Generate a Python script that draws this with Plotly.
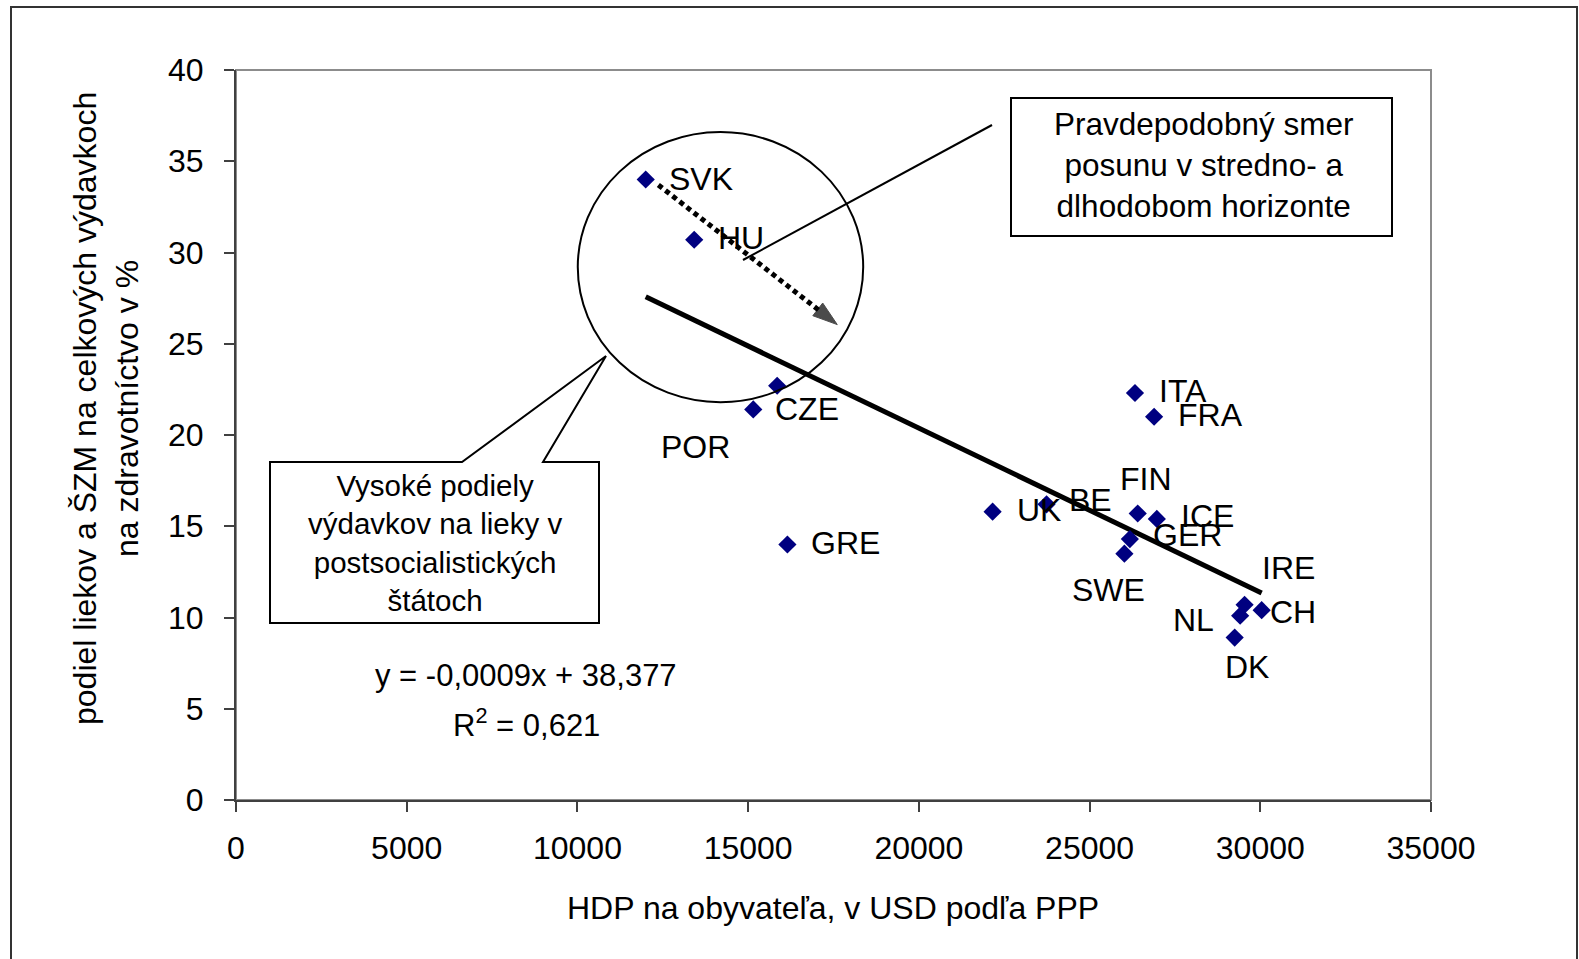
import plotly.graph_objects as go

# ---------------- data ----------------
countries = ["SVK", "HU", "CZE", "POR", "GRE", "UK", "BE", "FIN", "ICE", "GER",
             "SWE", "ITA", "FRA", "IRE", "NL", "CH", "DK"]
gdp_per_capita = [12000, 13420, 15850, 15150, 16150, 22160, 23740, 26410, 26970,
                  26180, 26020, 26330, 26890, 29540, 29410, 30040, 29250]
drug_share = [34.0, 30.7, 22.7, 21.4, 14.0, 15.8, 16.2, 15.7, 15.4,
              14.3, 13.5, 22.3, 21.0, 10.7, 10.1, 10.4, 8.9]

trend_slope = -0.0009
trend_intercept = 38.377
trend_r2 = 0.621

x_ticks = [0, 5000, 10000, 15000, 20000, 25000, 30000, 35000]
y_ticks = [0, 5, 10, 15, 20, 25, 30, 35, 40]

x_title = "HDP na obyvateľa, v USD podľa PPP"
y_title = "podiel liekov a ŠZM na celkových výdavkoch<br>na zdravotníctvo v %"
box_left_text = "Vysoké podiely<br>výdavkov na lieky v<br>postsocialistických<br>štátoch"
box_right_text = "Pravdepodobný smer<br>posunu v stredno- a<br>dlhodobom horizonte"

# ---------------- styling / placement ----------------
FONT = "Liberation Sans, Arial, sans-serif"
W, H = 1579, 959
PL, PR, PT, PB = 236, 1431, 70, 800

def px(x):
    return (x - PL) / (PR - PL)

def py(y):
    return (PB - y) / (PB - PT)

# label offsets in pixels (dx right, dy down)
label_offsets = {
    "SVK": (55, -1), "HU": (47, -2), "CZE": (30, 23), "POR": (-58, 38),
    "GRE": (58, -2), "UK": (46, -2), "BE": (44, -4), "FIN": (8, -34),
    "ICE": (51, -3), "GER": (58, -4), "SWE": (-16, 36), "ITA": (48, -2),
    "FRA": (56, -2), "IRE": (44, -37), "NL": (-47, 4), "CH": (31, 2),
    "DK": (12, 29),
}

# direction arrow (data coords) and circle (data coords)
arrow_from = (12370, 33.7)
arrow_to = (17610, 26.05)
circle_box = (10010, 21.8, 18370, 36.6)

fig = go.Figure()

# trend line from the fitted equation across the data range
xmin, xmax = min(gdp_per_capita), max(gdp_per_capita)
fig.add_trace(go.Scatter(
    x=[xmin, xmax],
    y=[trend_slope * xmin + trend_intercept, trend_slope * xmax + trend_intercept],
    mode="lines", line=dict(color="black", width=5), hoverinfo="skip",
    showlegend=False,
))

# dotted arrow
fig.add_trace(go.Scatter(
    x=[arrow_from[0], arrow_to[0]], y=[arrow_from[1], arrow_to[1]],
    mode="lines+markers",
    line=dict(color="black", width=5, dash="5px,4px"),
    marker=dict(symbol=["circle", "arrow"], size=[0, 26], color="black",
                line=dict(color="black", width=1), angleref="previous"),
    hoverinfo="skip", showlegend=False,
))

# data points
fig.add_trace(go.Scatter(
    x=gdp_per_capita, y=drug_share, mode="markers",
    marker=dict(symbol="diamond", size=14, color="#000080"),
    text=countries, showlegend=False,
))

annotations = []
for c, xv, yv in zip(countries, gdp_per_capita, drug_share):
    dx, dy = label_offsets[c]
    annotations.append(dict(
        x=xv, y=yv, xref="x", yref="y", text=c, showarrow=False,
        xshift=dx, yshift=-dy, xanchor="center", yanchor="middle",
        font=dict(family=FONT, size=32, color="black"),
    ))

eq_text = "y = {:.4f}x + {:.3f}".format(trend_slope, trend_intercept).replace(".", ",")
r2_text = "R<sup>2</sup> = {:.3f}".format(trend_r2).replace(".", ",")
annotations += [
    dict(x=px(526), y=py(675), xref="paper", yref="paper", text=eq_text,
         showarrow=False, xanchor="center", yanchor="middle",
         font=dict(family=FONT, size=31, color="black")),
    dict(x=px(526), y=py(723), xref="paper", yref="paper", text=r2_text,
         showarrow=False, xanchor="center", yanchor="middle",
         font=dict(family=FONT, size=31, color="black")),
    dict(x=px(434.5), y=py(543), xref="paper", yref="paper", text=box_left_text,
         showarrow=False, xanchor="center", yanchor="middle",
         font=dict(family=FONT, size=29.5, color="black")),
    dict(x=px(1203), y=py(165), xref="paper", yref="paper", text=box_right_text,
         showarrow=False, xanchor="center", yanchor="middle",
         font=dict(family=FONT, size=31.5, color="black")),
    dict(x=px(833), y=py(908), xref="paper", yref="paper", text=x_title,
         showarrow=False, xanchor="center", yanchor="middle",
         font=dict(family=FONT, size=32, color="black")),
    dict(x=px(106), y=py(409), xref="paper", yref="paper", text=y_title,
         showarrow=False, xanchor="center", yanchor="middle", textangle=-90,
         font=dict(family=FONT, size=32, color="black")),
]

callout_path = "M {} {} L {} {} L {} {} L {} {} L {} {} L {} {} L {} {} Z".format(
    px(270), py(462), px(462), py(462), px(606), py(356), px(543), py(462),
    px(599), py(462), px(599), py(623), px(270), py(623))

shapes = [
    # outer frame
    dict(type="rect", xref="paper", yref="paper", x0=px(11), x1=px(1577),
         y0=py(1000), y1=py(7), line=dict(color="#333333", width=2), layer="below"),
    # plot-area frame
    dict(type="rect", xref="paper", yref="paper", x0=0, x1=1, y0=0, y1=1,
         line=dict(color="#8c8c8c", width=2), layer="below"),
    # circle
    dict(type="circle", xref="x", yref="y", x0=circle_box[0], y0=circle_box[1],
         x1=circle_box[2], y1=circle_box[3], line=dict(color="black", width=2),
         layer="above"),
    # left callout
    dict(type="path", xref="paper", yref="paper", path=callout_path,
         line=dict(color="black", width=2), fillcolor="white", layer="above"),
    # right box
    dict(type="rect", xref="paper", yref="paper", x0=px(1011), x1=px(1392),
         y0=py(236), y1=py(98), line=dict(color="black", width=2),
         fillcolor="white", layer="above"),
    # right pointer
    dict(type="line", xref="paper", yref="paper", x0=px(992), y0=py(125),
         x1=px(743), y1=py(260), line=dict(color="black", width=2), layer="above"),
]

axis_common = dict(
    showgrid=False, zeroline=False, showline=True, linecolor="#404040",
    linewidth=2, ticks="outside", ticklen=10, tickwidth=2, tickcolor="#404040",
    tickfont=dict(family=FONT, size=32, color="black"),
)

fig.update_layout(
    width=W, height=H,
    margin=dict(l=PL, r=W - PR, t=PT, b=H - PB, pad=0),
    paper_bgcolor="white", plot_bgcolor="white",
    xaxis=dict(range=[0, 35000], tickvals=x_ticks, ticktext=[str(v) for v in x_ticks],
               ticklabelstandoff=9, **axis_common),
    yaxis=dict(range=[0, 40], tickvals=y_ticks, ticktext=[str(v) for v in y_ticks],
               ticklabelstandoff=14, **axis_common),
    annotations=annotations, shapes=shapes,
    font=dict(family=FONT, color="black"),
    showlegend=False,
)

fig.write_html("out.html", config={"displayModeBar": False},
               post_script="document.body.style.margin='0';document.body.style.overflow='hidden';")
